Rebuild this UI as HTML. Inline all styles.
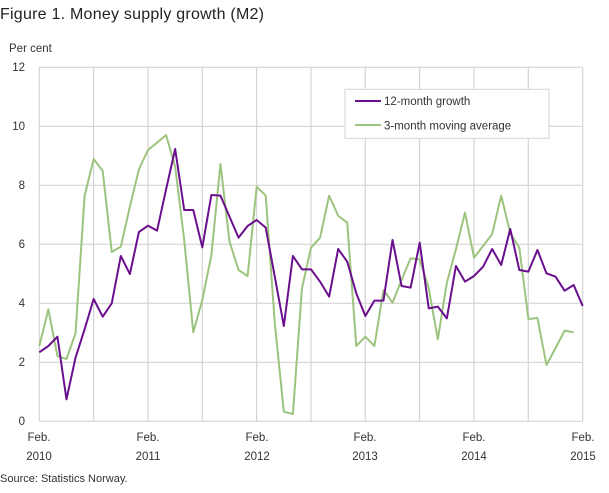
<!DOCTYPE html>
<html><head><meta charset="utf-8"><style>
body{margin:0;background:#fff;width:609px;height:488px;overflow:hidden;font-family:"Liberation Sans",sans-serif}
</style></head><body>
<svg width="609" height="488" xmlns="http://www.w3.org/2000/svg" font-family="Liberation Sans, sans-serif">
<text x="0" y="19" font-size="16" fill="#222" textLength="264">Figure 1. Money supply growth (M2)</text>
<text x="9" y="52" font-size="11.5" fill="#333">Per cent</text>
<g stroke="#d4d4d4" stroke-width="1.2" fill="none">
<line x1="39.3" y1="67.3" x2="582.7" y2="67.3"/><line x1="39.3" y1="126.3" x2="582.7" y2="126.3"/>
<line x1="39.3" y1="185.3" x2="582.7" y2="185.3"/><line x1="39.3" y1="244.3" x2="582.7" y2="244.3"/>
<line x1="39.3" y1="303.3" x2="582.7" y2="303.3"/><line x1="39.3" y1="362.3" x2="582.7" y2="362.3"/>
<line x1="39.3" y1="421.3" x2="582.7" y2="421.3"/>
<line x1="39.3" y1="67.3" x2="39.3" y2="421.3"/><line x1="93.6" y1="67.3" x2="93.6" y2="421.3"/>
<line x1="148" y1="67.3" x2="148" y2="421.3"/><line x1="202.3" y1="67.3" x2="202.3" y2="421.3"/>
<line x1="256.6" y1="67.3" x2="256.6" y2="421.3"/><line x1="311" y1="67.3" x2="311" y2="421.3"/>
<line x1="365.3" y1="67.3" x2="365.3" y2="421.3"/><line x1="419.6" y1="67.3" x2="419.6" y2="421.3"/>
<line x1="474" y1="67.3" x2="474" y2="421.3"/><line x1="528.3" y1="67.3" x2="528.3" y2="421.3"/>
<line x1="582.7" y1="67.3" x2="582.7" y2="421.3"/>
</g>
<g font-size="11.5" fill="#333" text-anchor="end">
<text x="25" y="71">12</text><text x="25" y="130">10</text><text x="25" y="189">8</text>
<text x="25" y="248">6</text><text x="25" y="307">4</text><text x="25" y="366">2</text><text x="25" y="425">0</text>
</g>
<g font-size="11.5" fill="#333" text-anchor="middle">
<text x="39" y="441">Feb.</text><text x="39" y="460">2010</text>
<text x="148" y="441">Feb.</text><text x="148" y="460">2011</text>
<text x="257" y="441">Feb.</text><text x="257" y="460">2012</text>
<text x="365" y="441">Feb.</text><text x="365" y="460">2013</text>
<text x="474" y="441">Feb.</text><text x="474" y="460">2014</text>
<text x="583" y="441">Feb.</text><text x="583" y="460">2015</text>
</g>
<text x="0" y="482" font-size="11" fill="#333">Source: Statistics Norway.</text>
<g transform="matrix(9.057 0 0 0.33333 39.3 60)" fill="none" stroke-linejoin="round">
<polyline vector-effect="non-scaling-stroke" stroke="#9dc47f" stroke-width="2" points="0,858 1,748 2,888 3,897 4,820 5,408 6,297 7,333 8,576 9,560 10,440 11,328 12,270 13,248 14,225 15,320 16,540 17,817 18,720 19,585 20,312 21,545 22,630 23,648 24,380 25,407 26,790 27,1055 28,1062 29,685 30,563 31,533 32,407 33,467 34,488 35,858 36,830 37,858 38,690 39,728 40,660 41,595 42,598 43,685 44,838 45,668 46,568 47,458 48,593 49,558 50,522 51,407 52,520 53,563 54,777 55,774 56,915 57,864 58,812 59,817"/>
<polyline vector-effect="non-scaling-stroke" stroke="#6a0f8e" stroke-width="2" points="0,877 1,858 2,830 3,1018 4,893 5,808 6,717 7,770 8,730 9,588 10,642 11,516 12,497 13,512 14,388 15,267 16,450 17,450 18,562 19,405 20,407 21,470 22,533 23,498 24,480 25,503 26,650 27,798 28,588 29,628 30,628 31,665 32,710 33,567 34,605 35,700 36,768 37,722 38,722 39,540 40,678 41,683 42,548 43,745 44,740 45,775 46,618 47,665 48,648 49,620 50,567 51,615 52,507 53,630 54,635 55,570 56,640 57,650 58,692 59,675 60,738"/>
</g>
<rect x="345" y="89.3" width="204" height="49" fill="#fff" stroke="#d4d4d4" stroke-width="1"/>
<line x1="355" y1="101" x2="381" y2="101" stroke="#6a0f8e" stroke-width="2"/>
<line x1="355" y1="125" x2="381" y2="125" stroke="#9dc47f" stroke-width="2"/>
<text x="384" y="105" font-size="11.5" fill="#333">12-month growth</text>
<text x="384" y="129.5" font-size="11.5" fill="#333">3-month moving average</text>
</svg>
</body></html>
